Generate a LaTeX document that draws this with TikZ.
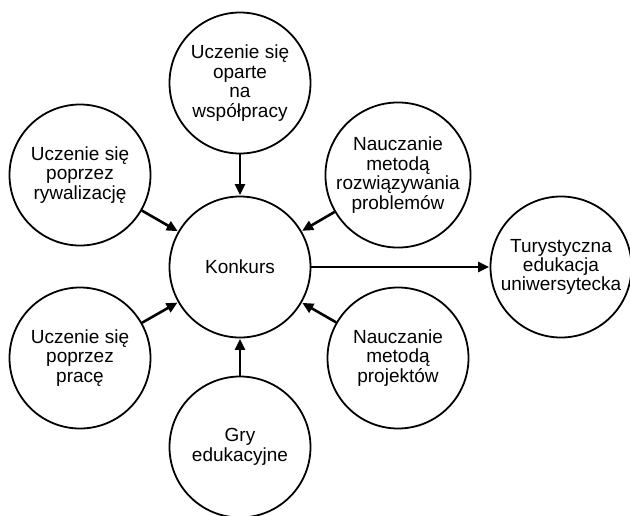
\documentclass[tikz,border=0pt]{standalone}
\usepackage{fontspec}
\setmainfont{Liberation Sans}
\usetikzlibrary{arrows.meta}
\tikzset{
  bubble/.style={circle, draw=black, line width=1.8pt, minimum size=141pt, inner sep=0pt,
    align=center, font=\fontsize{19}{19.4}\selectfont, text=black},
  conn/.style={line width=2.6pt, -{Triangle[length=11pt,width=10pt]}, shorten >=0.5pt}
}
\begin{document}
\begin{tikzpicture}[x=1pt,y=-1pt]
\useasboundingbox (0,0) rectangle (630,515);
\node[bubble] (c) at (240,267) {Konkurs};
\node[bubble] (t) at (240,83) {Uczenie się\\oparte\\na\\współpracy};
\node[bubble] (tl) at (80,175) {Uczenie się\\poprzez\\rywalizację};
\node[bubble] (tr) at (398,175) {Nauczanie\\metodą\\rozwiązywania\\problemów};
\node[bubble] (bl) at (80,358) {Uczenie się\\poprzez\\pracę};
\node[bubble] (br) at (398,358) {Nauczanie\\metodą\\projektów};
\node[bubble] (b) at (240,447) {Gry\\edukacyjne};
\node[bubble] (r) at (561,267) {Turystyczna\\edukacja\\uniwersytecka};
\draw[conn] (t) -- (c);
\draw[conn] (tl) -- (c);
\draw[conn] (tr) -- (c);
\draw[conn] (bl) -- (c);
\draw[conn] (br) -- (c);
\draw[conn] (b) -- (c);
\draw[conn] (c) -- (r);
\end{tikzpicture}
\end{document}
